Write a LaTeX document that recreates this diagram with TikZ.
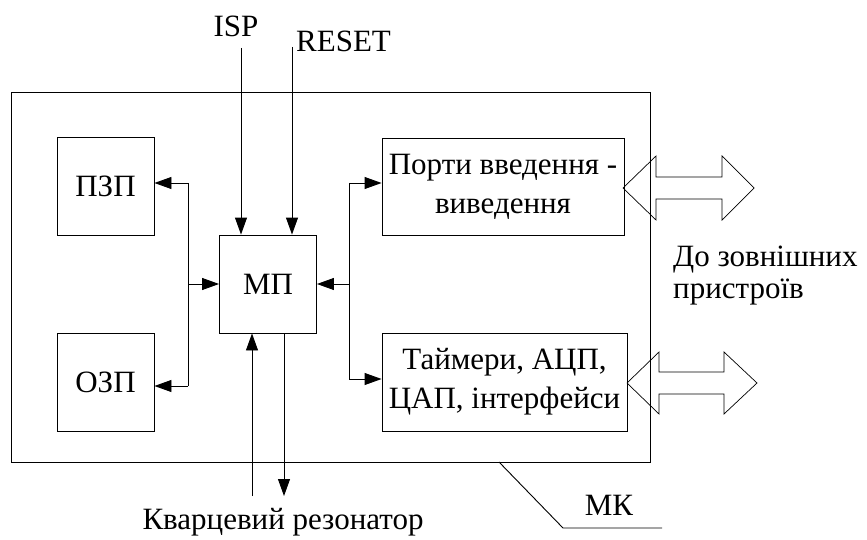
\documentclass[tikz,border=0pt]{standalone}
\usepackage{fontspec}
\setmainfont{Liberation Serif}
\usetikzlibrary{arrows.meta}
\tikzset{
  box/.style={draw, line width=0.9pt, inner sep=0pt, align=center},
  arr/.style={line width=0.9pt, -{Triangle[length=17pt,width=12pt]}},
  wire/.style={line width=0.9pt},
  lbl/.style={inner sep=0pt, align=left},
}
\begin{document}
\begin{tikzpicture}[x=1pt,y=-1pt,font=\fontsize{31}{39}\selectfont]
\useasboundingbox (0,0) rectangle (867,540);
% outer MK box
\node[box, minimum width=639pt, minimum height=370pt] (mk) at (330.5,277) {};
% inner blocks
\node[box, minimum width=97pt, minimum height=98pt] (pzp) at (105.5,186) {ПЗП};
\node[box, minimum width=97pt, minimum height=98pt] (ozp) at (105.5,382) {ОЗП};
\node[box, minimum width=97pt, minimum height=98pt] (mp) at (268,284) {МП};
\node[box, minimum width=242pt, minimum height=97pt] (port) at (503,186.5) {Порти введення -\\виведення};
\node[box, minimum width=245pt, minimum height=98pt] (tim) at (504.5,382) {Таймери, АЦП,\\ЦАП, інтерфейси};
% top inputs
\node[lbl] (isp) at (236,26) {ISP};
\node[lbl, anchor=west] (reset) at (296,41) {RESET};
\coordinate (isp0) at (241,48);
\coordinate (rst0) at (292,47);
\draw[arr] (isp0) -- (isp0 |- mp.north);
\draw[arr] (rst0) -- (rst0 |- mp.north);
% left bus
\coordinate (lbt) at (188,183);
\coordinate (lbb) at (188,386);
\draw[wire] (lbt) -- (lbb);
\draw[arr] (lbt) -- (lbt -| pzp.east);
\draw[arr] (lbb) -- (lbb -| ozp.east);
\draw[arr] (lbt |- mp.west) -- (mp.west);
% right bus
\coordinate (rbt) at (349,183);
\coordinate (rbb) at (349,379);
\draw[wire] (rbt) -- (rbb);
\draw[arr] (rbt) -- (rbt -| port.west);
\draw[arr] (rbb) -- (rbb -| tim.west);
\draw[arr] (rbt |- mp.east) -- (mp.east);
% crystal
\coordinate (q1) at (252,496);
\coordinate (q2) at (284,496);
\draw[arr] (q1) -- (q1 |- mp.south);
\draw[arr] (q2 |- mp.south) -- (q2);
\node[lbl] (quartz) at (283,522) {Кварцевий резонатор};
% MK leader
\coordinate (mk1) at (499,462);
\coordinate (mk2) at (563,528);
\coordinate (mk3) at (662,528);
\draw[wire] (mk1) -- (mk2) -- (mk3);
\node[lbl] (mkl) at (609,505) {МК};
% double arrows
\draw[line width=0.7pt] (623,188) -- (656,156) -- (656,177) -- (722,177) -- (722,156) -- (754,188)
  -- (722,220) -- (722,199) -- (656,199) -- (656,220) -- cycle;
\draw[line width=0.7pt] (627,383) -- (659,352) -- (659,372) -- (724,372) -- (724,352) -- (757,383)
  -- (724,414) -- (724,394) -- (659,394) -- (659,414) -- cycle;
\node[lbl, anchor=west] (ext1) at (673,260) {До зовнішних};
\node[lbl, anchor=west] (ext2) at (673,292) {пристроїв};
\end{tikzpicture}
\end{document}
